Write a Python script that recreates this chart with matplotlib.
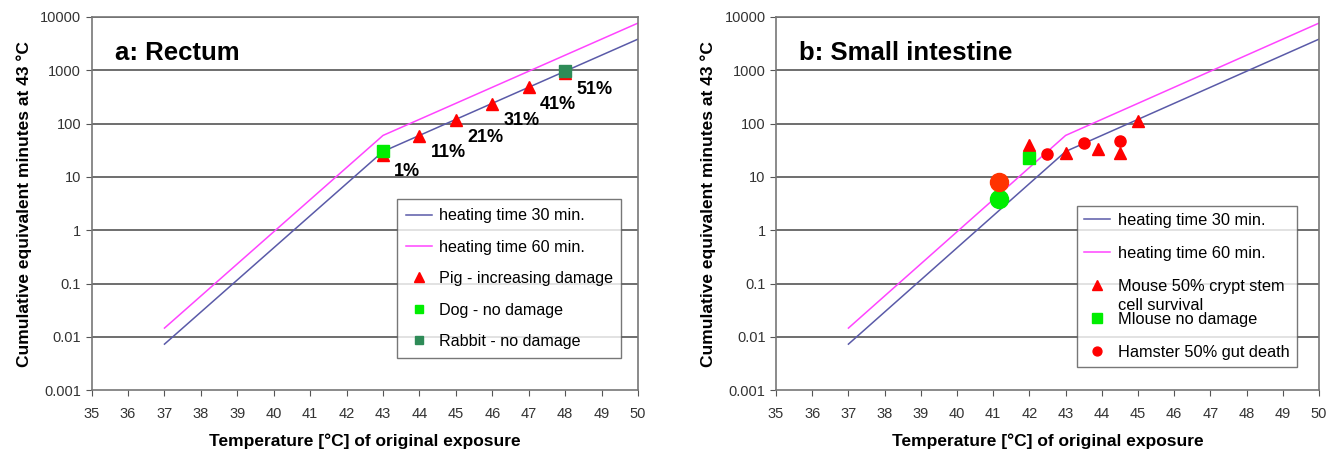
import matplotlib.pyplot as plt

plt.rcParams['font.family'] = ['Liberation Sans', 'DejaVu Sans']

# heating curves (CEM43 for 30 and 60 min exposure), kink at 43 C
temp_line = [37, 43, 50]
cem_30 = [0.0073, 30, 3840]
cem_60 = [0.0146, 60, 7680]

# a: rectum
pig_temp = [43, 44, 45, 46, 47, 48]
pig_cem = [26, 59, 115, 238, 478, 900]
pig_pct = ['1%', '11%', '21%', '31%', '41%', '51%']
dog_temp = [43]
dog_cem = [30]
rabbit_temp = [48]
rabbit_cem = [950]

# b: small intestine
mouse_temp = [42, 43, 43.9, 44.5, 45]
mouse_cem = [40, 28, 34, 28, 112]
mouse_nd_temp = [42, 41.17]
mouse_nd_cem = [23, 3.85]
hamster_temp = [42.48, 43.5, 44.5]
hamster_cem = [27, 44, 48]
hamster_big_temp = [41.17]
hamster_big_cem = [8.0]

xticks = list(range(35, 51))
yticks = [0.001, 0.01, 0.1, 1, 10, 100, 1000, 10000]
ylabels = ['0.001', '0.01', '0.1', '1', '10', '100', '1000', '10000']

c30 = '#5a5aa8'
c60 = '#ff44ff'
red = '#ff0000'
lime = '#00ee00'
rabbit_c = '#2e8b57'

fig = plt.figure(figsize=(13.38, 4.59), dpi=100)
ax1 = fig.add_axes([0.0685, 0.150, 0.4083, 0.813])
ax2 = fig.add_axes([0.5800, 0.150, 0.4058, 0.813])


def style(ax, title):
    ax.set_yscale('log')
    ax.set_xlim(35, 50)
    ax.set_ylim(0.001, 10000)
    ax.set_xticks(xticks)
    ax.set_yticks(yticks)
    ax.set_yticklabels(ylabels)
    ax.minorticks_off()
    ax.tick_params(labelsize=10.5, colors='#333333', length=4, color='#555555')
    ax.tick_params(axis='x', pad=8)
    for y in yticks[1:]:
        ax.axhline(y, color='#555555', lw=1.2, zorder=0)
    for s in ax.spines.values():
        s.set_color('#777777')
        s.set_linewidth(1.2)
    ax.set_xlabel('Temperature [°C] of original exposure', fontsize=12.5,
                  fontweight='bold', labelpad=9)
    ax.set_ylabel('Cumulative equivalent minutes at 43 °C', fontsize=12.5,
                  fontweight='bold', labelpad=6)
    ax.text(0.043, 0.885, title, transform=ax.transAxes, fontsize=18.5,
            fontweight='bold')
    ax.plot(temp_line, cem_30, color=c30, lw=1.1, label='heating time 30 min.')
    ax.plot(temp_line, cem_60, color=c60, lw=1.1, label='heating time 60 min.')


style(ax1, 'a: Rectum')
ax1.plot(pig_temp, pig_cem, '^', color=red, ms=9, ls='none',
         label='Pig - increasing damage')
ax1.plot(dog_temp, dog_cem, 's', color=lime, ms=8, ls='none',
         label='Dog - no damage')
ax1.plot(rabbit_temp, rabbit_cem, 's', color=rabbit_c, ms=8, ls='none',
         label='Rabbit - no damage')
for t, v, p in zip(pig_temp, pig_cem, pig_pct):
    ax1.annotate(p, (t, v), xytext=(8, -12), textcoords='offset points',
                 fontsize=13, fontweight='bold', ha='left', va='center')
leg1 = ax1.legend(loc='lower left', bbox_to_anchor=(0.545, 0.065),
                  fontsize=11.6, frameon=True, fancybox=False, handlelength=1.6,
                  labelspacing=1.02, borderpad=0.55, handletextpad=0.4,
                  markerscale=0.8)
leg1.get_frame().set_edgecolor('#555555')
leg1.get_frame().set_linewidth(1.0)

style(ax2, 'b: Small intestine')
ax2.plot(mouse_temp, mouse_cem, '^', color=red, ms=9, ls='none',
         label='Mouse 50% crypt stem')
ax2.plot(mouse_nd_temp[:1], mouse_nd_cem[:1], 's', color=lime, ms=9, ls='none',
         label='Mlouse no damage')
ax2.plot(mouse_nd_temp[1:], mouse_nd_cem[1:], 'o', color=lime, ms=13, ls='none')
ax2.plot(hamster_temp, hamster_cem, 'o', color=red, ms=8, ls='none',
         label='Hamster 50% gut death')
ax2.plot(hamster_big_temp, hamster_big_cem, 'o', color='#ff3300', ms=13,
         ls='none')
leg2 = ax2.legend(loc='lower left', bbox_to_anchor=(0.539, 0.041),
                  fontsize=11.8, frameon=True, fancybox=False, handlelength=1.6,
                  labelspacing=1.1, borderpad=0.42, handletextpad=0.5,
                  markerscale=0.8)
leg2.get_frame().set_edgecolor('#555555')
leg2.get_frame().set_linewidth(1.0)
# second line of the mouse label overflows into the next row, as in the original
mouse_txt = leg2.get_texts()[2]
ax2.annotate('cell survival', xy=(0, 0), xycoords=mouse_txt, xytext=(0, -3),
             textcoords='offset points', ha='left', va='top', fontsize=11.8,
             zorder=10)

fig.savefig('out.png', dpi=100)
